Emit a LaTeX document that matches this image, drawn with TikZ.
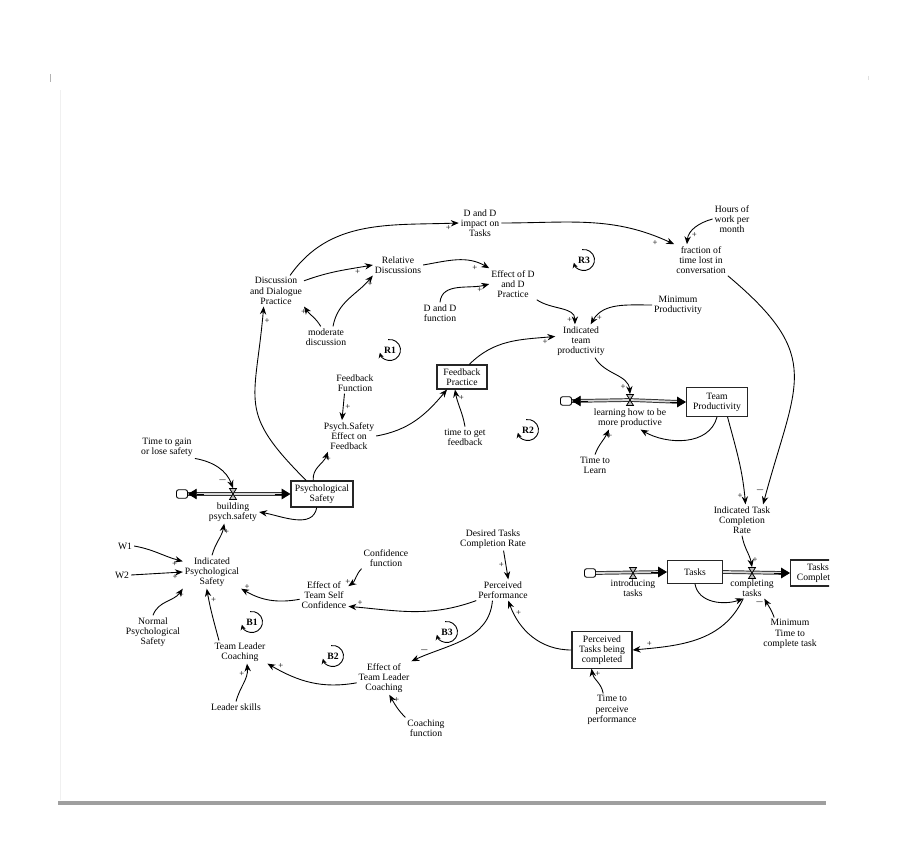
\documentclass[tikz,border=0pt]{standalone}
\usepackage{fontspec}
\setmainfont{Liberation Serif}
\usetikzlibrary{arrows.meta}
\tikzset{
  var/.style={align=center,font=\fontsize{5.5}{5.8}\selectfont,inner sep=1pt},
  stock/.style={var,draw=black!85,line width=0.6pt,inner sep=2pt},
  lnk/.style={-{Stealth[length=4.5pt,width=3.6pt]},line width=0.5pt},
  sg/.style={font=\fontsize{5}{5}\selectfont,inner sep=1pt},
  flowline/.style={line width=1.0pt,draw=gray!30,preaction={draw=black!80,line width=2.1pt}},
  flowtip/.style={-{Triangle[length=5pt,width=6pt]},line width=0.4pt},
  cloudn/.style={draw,rounded corners=1.2pt,minimum width=2.2mm,minimum height=1.7mm,inner sep=0pt,fill=white,line width=0.5pt},
  valvenode/.style={minimum width=1.4mm,minimum height=2.2mm,inner sep=0pt},
  valvepic/.pic={\draw[fill=gray!50,line width=0.45pt] (-3.5,5.5)--(3.5,5.5)--(-3.5,-5.5)--(3.5,-5.5)--cycle;},
  loopl/.style={font=\fontsize{5.5}{5.8}\selectfont\bfseries,inner sep=0.5pt},
  looparr/.style={-{Stealth[length=3pt,width=3pt]},line width=0.5pt}
}
\begin{document}
\begin{tikzpicture}[x=0.02cm,y=0.02cm]
\useasboundingbox (0,0) rectangle (909,-844);
% faint page marks
\draw[gray!60,line width=0.5pt] (50,-74) -- (50,-82);
\draw[gray!25,line width=0.4pt] (868,-76) -- (868,-80);
\draw[gray!12,line width=0.4pt] (60,-90) -- (60,-800);
\draw[gray!75,line width=2.4pt] (58,-803) -- (826,-803);

% ---------- nodes ----------
\node[var] (ddimp) at (480,-223) {D and D\\impact on\\Tasks};
\node[var] (hours) at (732,-219) {Hours of\\work per\\month};
\node[var] (frac) at (701,-260) {fraction of\\time lost in\\conversation};
\node[var] (ddp) at (276,-291) {Discussion\\and Dialogue\\Practice};
\node[var] (reld) at (398,-265) {Relative\\Discussions};
\node[var] (effdd) at (513,-284) {Effect of D\\and D\\Practice};
\node[var] (ddf) at (440,-313) {D and D\\function};
\node[var] (minp) at (678,-305) {Minimum\\Productivity};
\node[var] (itp) at (581,-341) {Indicated\\team\\productivity};
\node[var] (mod) at (326,-337) {moderate\\discussion};
\node[var] (fbf) at (355,-383) {Feedback\\Function};
\node[stock,minimum width=1.0cm] (fbp) at (462,-377) {Feedback\\Practice};
\node[var] (pse) at (349,-436) {Psych.Safety\\Effect on\\Feedback};
\node[var] (tgf) at (465,-437) {time to get\\feedback};
\node[stock,minimum width=1.22cm,minimum height=0.58cm] (tp) at (717,-402) {Team\\Productivity};
\node[cloudn] (lcloud) at (566,-401) {};
\node[valvenode] (lvalve) at (630,-400) {};
\node[var] (learn) at (630,-418) {learning how to be\\more productive};
\node[var] (ttl) at (595,-465) {Time to\\Learn};
\node[var] (tgl) at (167,-447) {Time to gain\\or lose safety};
\node[cloudn] (pcloud) at (182,-494) {};
\node[valvenode] (pvalve) at (233,-494) {};
\node[var] (bps) at (233,-512) {building\\psych.safety};
\node[stock,minimum width=1.24cm] (ps) at (322,-494) {Psychological\\Safety};
\node[var] (itcr) at (742,-520) {Indicated Task\\Completion\\Rate};
\node[var] (w1) at (125,-546) {W1};
\node[var] (w2) at (122,-575) {W2};
\node[var] (ips) at (212,-572) {Indicated\\Psychological\\Safety};
\node[var] (conf) at (386,-558) {Confidence\\function};
\node[var] (dtcr) at (493,-539) {Desired Tasks\\Completion Rate};
\node[var] (etsc) at (324,-595) {Effect of\\Team Self\\Confidence};
\node[var] (pp) at (503,-590) {Perceived\\Performance};
\node[cloudn] (tcloud) at (590,-573) {};
\node[valvenode] (ivalve) at (633,-573) {};
\node[var] (intro) at (633,-588) {introducing\\tasks};
\node[stock,minimum width=1.1cm,minimum height=0.46cm] (tasks) at (695,-572) {Tasks};
\node[valvenode] (cvalve) at (752,-573) {};
\node[var] (comp) at (752,-588) {completing\\tasks};
\node[var] (mtct) at (790,-634) {Minimum\\Time to\\complete task};
\node[var] (nps) at (153,-632) {Normal\\Psychological\\Safety};
\node[var] (tlc) at (240,-652) {Team Leader\\Coaching};
\node[var] (etlc) at (384,-678) {Effect of\\Team Leader\\Coaching};
\node[stock,minimum width=1.2cm,minimum height=0.7cm] (ptc) at (602,-650) {Perceived\\Tasks being\\completed};
\node[var] (ls) at (236,-707) {Leader skills};
\node[var] (cf) at (426,-728) {Coaching\\function};
\node[var] (ttpp) at (612,-710) {Time to\\perceive\\performance};

% loop markers
\node[loopl] (R1) at (390,-350) {R1};
\node[loopl] (R3) at (584,-260) {R3};
\node[loopl] (R2) at (528,-430) {R2};
\node[loopl] (B1) at (252,-622) {B1};
\node[loopl] (B2) at (333,-656) {B2};
\node[loopl] (B3) at (447,-632) {B3};
\foreach \l in {R1,R2,R3,B1,B2,B3}{
  \draw[looparr] (\l.center) ++(100:2.1mm) arc[start angle=100,end angle=-165,radius=2.1mm];
}

% ---------- flows ----------
\draw[flowline] (lvalve.center) -- (lcloud.east);
\draw[flowline] (lvalve.center) -- ([xshift=-3pt]tp.west);
\draw[flowtip] ([xshift=9pt]lcloud.east) -- (lcloud.east);
\draw[flowtip] ([xshift=-9pt]tp.west) -- (tp.west);
\draw[flowline] (pvalve.center) -- (pcloud.east);
\draw[flowline] (pvalve.center) -- ([xshift=-3pt]ps.west);
\draw[flowtip] ([xshift=9pt]pcloud.east) -- (pcloud.east);
\draw[flowtip] ([xshift=-9pt]ps.west) -- (ps.west);
\draw[flowline] (tcloud.east) -- ([xshift=-3pt]tasks.west);
\draw[flowtip] ([xshift=-9pt]tasks.west) -- (tasks.west);
\begin{scope}
\clip (0,0) rectangle (829,-844);
\node[stock,minimum width=1.1cm,minimum height=0.46cm] (tcomp) at (818,-573) {Tasks\\Completed};
\draw[flowline] (tasks.east) -- ([xshift=-3pt]tcomp.west);
\draw[flowtip] ([xshift=-9pt]tcomp.west) -- (tcomp.west);
\end{scope}
\pic at (lvalve) {valvepic};
\pic at (pvalve) {valvepic};
\pic at (ivalve) {valvepic};
\pic at (cvalve) {valvepic};

% ---------- links ----------
\draw[lnk] ([xshift=8pt]ddp.north) to[out=55,in=182] node[sg,pos=0.95,below]{+} (ddimp.west);
\draw[lnk] (ddimp.east) to[out=0,in=155] node[sg,pos=0.92,below left]{+} (frac.north west);
\draw[lnk] (hours.west) to[out=195,in=85] node[sg,pos=0.75,right]{+} ([xshift=-8pt]frac.north);
\draw[lnk] (ddp.20) to[out=20,in=190] node[sg,pos=0.8,below]{+} (reld.west);
\draw[lnk] ([xshift=-3pt]mod.north) to[out=120,in=-55] node[sg,pos=0.75,left]{+} (ddp.south east);
\draw[lnk] ([xshift=4pt]mod.north) to[out=80,in=-130] node[sg,pos=0.85,right]{+} (reld.south west);
\draw[lnk] (reld.east) to[out=10,in=150] node[sg,pos=0.85,below left]{+} (effdd.north west);
\draw[lnk] (ddf.north) to[out=85,in=195] node[sg,pos=0.85,below]{+} (effdd.west);
\draw[lnk] (effdd.south east) to[out=-35,in=90] node[sg,pos=0.9,left]{+} (itp.110);
\draw[lnk] (minp.west) to[out=180,in=60] node[sg,pos=0.9,right]{+} (itp.60);
\draw[lnk] (fbp.60) to[out=45,in=185] node[sg,pos=0.9,below]{+} (itp.170);
\draw[lnk] (itp.-50) to[out=-60,in=95] node[sg,pos=0.85,left]{+} (lvalve.north);
\draw[lnk] (tp.south) to[out=-105,in=-30] ([xshift=6pt]learn.south);
\draw[lnk] (ttl.north) to[out=70,in=-115] node[sg,pos=0.75,right]{+} ([xshift=-12pt]learn.south);
\draw[lnk] ([xshift=-6pt]fbf.south) -- node[sg,right]{+} ([xshift=-4pt]pse.north);
\draw[lnk] (pse.east) to[out=10,in=230] ([xshift=6pt]fbp.south west);
\draw[lnk] (tgf.north) to[out=100,in=-80] node[sg,pos=0.8,right]{+} ([xshift=-4pt]fbp.south);
\draw[lnk] ([xshift=-5pt]ps.north) to[out=95,in=-110] node[sg,pos=0.75,right]{+} ([xshift=-12pt]pse.south);
\draw[lnk] ([xshift=-9pt]ps.north) to[out=135,in=-95,looseness=1.4] node[sg,pos=0.95,right]{+} ([xshift=-7pt]ddp.south);
\draw[lnk] (tgl.south east) to[out=-10,in=110] node[sg,pos=0.85,left]{$-$} (pvalve.north);
\draw[lnk] ([xshift=-3pt]ps.south) to[out=-100,in=-10] (bps.east);
\draw[lnk] (ips.north) to[out=75,in=-100] node[sg,pos=0.75,right]{+} ([xshift=-5pt]bps.south);
\draw[lnk] (w1.east) to[out=-10,in=165] node[sg,pos=0.85,below]{+} (ips.160);
\draw[lnk] (w2.east) -- node[sg,pos=0.85,below]{+} (ips.west);
\draw[lnk] (nps.north) to[out=70,in=-125] node[sg,pos=0.8,right]{+} (ips.south west);
\draw[lnk] ([xshift=-12pt]tlc.north) to[out=105,in=-80] node[sg,pos=0.8,right]{+} ([xshift=-3pt]ips.south);
\draw[lnk] (etsc.190) to[out=190,in=-30] node[sg,pos=0.9,above]{+} (ips.south east);
\draw[lnk] (conf.south west) to[out=-135,in=35] node[sg,pos=0.75,left]{+} (etsc.20);
\draw[lnk] (pp.south west) to[out=-160,in=-5] node[sg,pos=0.92,above]{+} (etsc.-25);
\draw[lnk] ([xshift=6pt]dtcr.south) -- node[sg,left]{+} ([xshift=3pt]pp.north);
\draw[lnk] ([xshift=-6pt]pp.south) to[out=-95,in=25] node[sg,pos=0.88,above]{$-$} (etlc.north east);
\draw[lnk] (etlc.190) to[out=190,in=-30] node[sg,pos=0.85,above]{+} (tlc.south east);
\draw[lnk] (ls.north) to[out=75,in=-85] node[sg,pos=0.75,left]{+} ([xshift=4pt]tlc.south);
\draw[lnk] (cf.north west) to[out=135,in=-60] node[sg,pos=0.8,right]{+} ([xshift=3pt]etlc.south);
\draw[lnk] (ptc.west) to[out=180,in=-70] node[sg,pos=0.85,right]{+} ([xshift=3pt]pp.south);
\draw[lnk] ([xshift=-5pt]comp.south) to[out=-115,in=5] node[sg,pos=0.88,above]{+} (ptc.east);
\draw[lnk] (tasks.south) to[out=-80,in=200] ([xshift=-5pt]comp.south);
\draw[lnk] (itcr.south) to[out=-80,in=100] node[sg,pos=0.8,right]{+} (cvalve.north);
\draw[lnk] ([xshift=-9pt]mtct.north) to[out=110,in=-60] node[sg,pos=0.8,left]{$-$} ([xshift=7pt]comp.south);
\draw[lnk] ([xshift=6pt]tp.south) to[out=-75,in=95] node[sg,pos=0.92,left]{+} ([xshift=2pt]itcr.north);
\draw[lnk] (frac.south east) to[out=-40,in=75,looseness=1.4] node[sg,pos=0.96,left]{$-$} ([xshift=12pt]itcr.north);
\draw[lnk] ([xshift=-5pt]ttpp.north) to[out=100,in=-80] node[sg,pos=0.8,right]{+} ([xshift=-6pt]ptc.south);
\end{tikzpicture}
\end{document}
